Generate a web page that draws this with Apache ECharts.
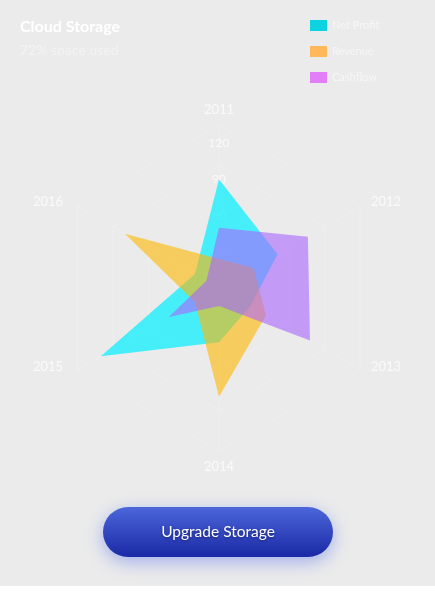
<!DOCTYPE html>
<html>
<head>
<meta charset="utf-8">
<script src="https://cdn.jsdelivr.net/npm/echarts@6/dist/echarts.min.js"></script>
<style>
html,body{margin:0;padding:0;background:#ffffff;}
#chart{width:435px;height:586px;}
</style>
</head>
<body>
<div id="chart"></div>
<script>
// ---- data ----
var categories = ['2011', '2012', '2013', '2014', '2015', '2016'];
var seriesNames = ['Net Profit', 'Revenue', 'Cashflow'];
var netProfit = [90, 56, 30, 45, 113, 23];
var revenue   = [24, 33, 45, 90, 23, 90];
var cashflow  = [50, 85, 87, 15, 48, 12];
var scaleMax = 135;          // value at outer ring
var labelMax = 150;          // label axis max
var tickLabels = [0, 30, 60, 90, 120];

// ---- helpers: ECharts radar runs counter-clockwise, reference is clockwise ----
function cw(arr) { return [arr[0]].concat(arr.slice(1).reverse()); }

var FONT = 'Lato, "Open Sans", sans-serif';
var chart = echarts.init(document.getElementById('chart'), null, {renderer: 'canvas'});

var lineColors = ['#0dd3e0', '#ffb85a', '#e27ef8'];
var areaColors = ['rgba(0,240,255,0.7)', 'rgba(255,183,0,0.6)', 'rgba(170,100,255,0.6)'];
var values = [netProfit, revenue, cashflow];

var ringIndicators = cw(categories).map(function (c) { return {name: c, max: scaleMax}; });
var labelIndicators = cw(categories).map(function (c, i) {
  var o = {name: '', max: labelMax, min: 0};
  if (i === 0) o.axisLabel = {show: true};
  return o;
});
var nameStyleKey = {'2011': 'top', '2012': 'ur', '2013': 'lr', '2014': 'bot', '2015': 'll', '2016': 'ul'};

var option = {
  backgroundColor: '#ebebeb',
  animation: false,
  title: {
    text: 'Cloud Storage',
    subtext: '72% space used',
    left: 20, top: 19, padding: 0, itemGap: 8,
    textStyle: {color: '#ffffff', fontSize: 16, fontWeight: 'bold', fontFamily: FONT},
    subtextStyle: {color: '#f3f3f3', fontSize: 14, fontFamily: FONT}
  },
  legend: {
    orient: 'vertical',
    left: 305, top: 15,
    icon: 'rect',
    itemWidth: 17, itemHeight: 11, itemGap: 15,
    data: seriesNames,
    textStyle: {color: '#f6f6f6', fontSize: 11, fontFamily: FONT}
  },
  radar: [
    {
      center: [219, 288],
      radius: 163,
      splitNumber: 4,
      indicator: ringIndicators,
      shape: 'polygon',
      nameGap: 9,
      axisName: {
        color: '#fafafa', fontSize: 13, fontFamily: FONT,
        formatter: function (name) { return '{' + nameStyleKey[name] + '|' + name + '}'; },
        rich: {
          top: {color: '#fafafa', fontSize: 13, fontFamily: FONT},
          bot: {color: '#fafafa', fontSize: 13, fontFamily: FONT},
          ur: {color: '#fafafa', fontSize: 13, fontFamily: FONT, padding: [0, 0, 0, 3]},
          ul: {color: '#fafafa', fontSize: 13, fontFamily: FONT, padding: [0, 7, 0, 0]},
          lr: {color: '#fafafa', fontSize: 13, fontFamily: FONT, padding: [0, 0, 14, 3]},
          ll: {color: '#fafafa', fontSize: 13, fontFamily: FONT, padding: [0, 7, 14, 0]}
        }
      },
      axisLine: {lineStyle: {color: '#efefef', width: 1}},
      splitLine: {lineStyle: {color: '#efefef', width: 1}},
      splitArea: {show: false},
      axisLabel: {show: false}
    },
    {
      center: [219, 288],
      radius: 163 * labelMax / scaleMax,
      splitNumber: tickLabels.length,
      indicator: labelIndicators,
      shape: 'polygon',
      axisName: {show: false},
      axisLine: {show: false},
      splitLine: {show: false},
      splitArea: {show: false},
      axisTick: {show: false},
      axisLabel: {
        show: false,
        margin: 0,
        align: 'center',
        verticalAlign: 'middle',
        color: '#fafafa',
        fontSize: 12,
        fontFamily: FONT,
        formatter: function (v) { return tickLabels.indexOf(v) >= 0 ? String(v) : ''; }
      }
    }
  ],
  series: values.map(function (vals, i) {
    return {
      type: 'radar',
      radarIndex: 0,
      name: seriesNames[i],
      symbol: 'none',
      itemStyle: {color: lineColors[i]},
      lineStyle: {width: 0, opacity: 0},
      areaStyle: {color: areaColors[i], opacity: 1},
      data: [{value: cw(vals), name: seriesNames[i]}]
    };
  }),
  graphic: [
    {
      type: 'group',
      left: 103, top: 507,
      children: [
        {
          type: 'rect',
          shape: {x: 0, y: 0, width: 230, height: 50, r: 25},
          style: {
            fill: new echarts.graphic.LinearGradient(0, 0, 0, 1, [
              {offset: 0, color: '#4c66da'},
              {offset: 1, color: '#1a29a5'}
            ]),
            shadowBlur: 18,
            shadowColor: 'rgba(70,100,235,0.45)',
            shadowOffsetY: 5
          }
        },
        {
          type: 'text',
          x: 115, y: 25,
          style: {
            text: 'Upgrade Storage',
            fill: '#ffffff',
            fontSize: 15.5,
            fontFamily: FONT,
            align: 'center',
            verticalAlign: 'middle',
            textShadowColor: 'rgba(0,0,40,0.5)',
            textShadowBlur: 3,
            textShadowOffsetY: 1
          }
        }
      ]
    }
  ]
};
chart.setOption(option);
</script>
</body>
</html>
